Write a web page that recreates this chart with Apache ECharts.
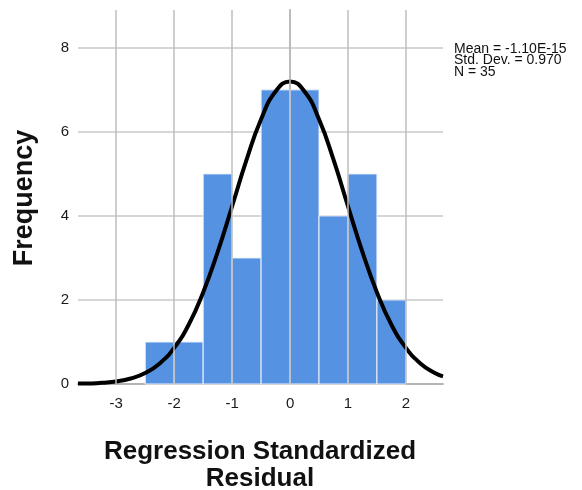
<!DOCTYPE html>
<html><head><meta charset="utf-8">
<script src="https://cdn.jsdelivr.net/npm/echarts@6/dist/echarts.min.js"></script>
<style>html,body{margin:0;padding:0;background:#fff}#c{width:582px;height:490px}</style>
</head><body><div id="c"></div>
<script>
// Histogram bins (width 0.5)
var binStart = [-2.5, -2.0, -1.5, -1.0, -0.5, 0.0, 0.5, 1.0, 1.5];
var binEnd   = [-2.0, -1.5, -1.0, -0.5, 0.0, 0.5, 1.0, 1.5, 2.0];
var counts   = [1, 1, 5, 3, 7, 7, 4, 5, 2];
// Normal curve points
var curveX = [-3.66,-3.5,-3.25,-3,-2.75,-2.5,-2.25,-2,-1.75,-1.5,-1.25,-1,-0.75,-0.5,-0.25,0,0.25,0.5,0.75,1,1.25,1.5,1.75,2,2.25,2.5,2.64];
var curveY = [0.01,0.01,0.03,0.06,0.13,0.26,0.49,0.86,1.41,2.18,3.14,4.23,5.34,6.30,6.96,7.20,6.96,6.30,5.34,4.23,3.14,2.18,1.41,0.86,0.49,0.26,0.18];
var xTicks = [-3, -2, -1, 0, 1, 2];
var yTicks = [0, 2, 4, 6, 8];
var statLines = ['Mean = -1.10E-15', 'Std. Dev. = 0.970', 'N = 35'];
var xTitle = 'Regression Standardized\nResidual';
var yTitle = 'Frequency';

var font = '"Liberation Sans", Arial, sans-serif';
var chart = echarts.init(document.getElementById('c'), null, {renderer: 'canvas'});
var barData = binStart.map(function (s, i) { return [s, binEnd[i], counts[i]]; });
var curveData = curveX.map(function (x, i) { return [x, curveY[i]]; });

chart.setOption({
  animation: false,
  backgroundColor: '#fff',
  grid: {left: 78, right: 139, top: 10, bottom: 106},
  xAxis: {
    type: 'value', min: -3.66, max: 2.64,
    axisLine: {show: true, lineStyle: {color: '#b4b4b4', width: 2}},
    axisTick: {show: false, customValues: xTicks},
    axisLabel: {customValues: xTicks, color: '#1a1a1a', fontSize: 15, fontFamily: font, margin: 12},
    splitLine: {show: false}
  },
  yAxis: {
    type: 'value', min: 0, max: 8.9,
    axisLine: {show: true, lineStyle: {color: '#b4b4b4', width: 2}},
    axisTick: {show: false, customValues: yTicks},
    axisLabel: {customValues: yTicks, color: '#1a1a1a', fontSize: 15, fontFamily: font, margin: 9},
    splitLine: {show: true, lineStyle: {color: '#d6d6d6', width: 2}}
  },
  series: [
    {
      type: 'custom', z: 2,
      data: barData,
      encode: {x: [0, 1], y: 2},
      renderItem: function (params, api) {
        var p0 = api.coord([api.value(0), api.value(2)]);
        var p1 = api.coord([api.value(1), 0]);
        return {
          type: 'rect',
          shape: {x: p0[0], y: p0[1], width: p1[0] - p0[0], height: p1[1] - p0[1]},
          style: {fill: '#5592e2', stroke: '#eef3fb', lineWidth: 1}
        };
      }
    },
    {
      type: 'line', z: 3, data: [], symbol: 'none',
      markLine: {
        silent: true, symbol: 'none', label: {show: false},
        lineStyle: {color: 'rgba(190,190,190,0.75)', width: 2, type: 'solid'},
        data: xTicks.map(function (v) { return {xAxis: v}; })
      }
    },
    {
      type: 'line', z: 4, data: curveData, smooth: true, symbol: 'none',
      lineStyle: {color: '#000', width: 4}
    }
  ],
  graphic: [
    {type: 'text', left: 454, top: 42, style: {text: statLines.join('\n'), font: '14px ' + font, lineHeight: 11.5, fill: '#111'}},
    {type: 'text', x: 25, y: 198, rotation: Math.PI / 2,
      style: {text: yTitle, font: 'bold 27px ' + font, fill: '#111', align: 'center', verticalAlign: 'middle'}},
    {type: 'text', x: 260, y: 465,
      style: {text: xTitle, font: 'bold 26px ' + font, lineHeight: 27, fill: '#111', align: 'center', verticalAlign: 'middle'}}
  ]
});
</script></body></html>
